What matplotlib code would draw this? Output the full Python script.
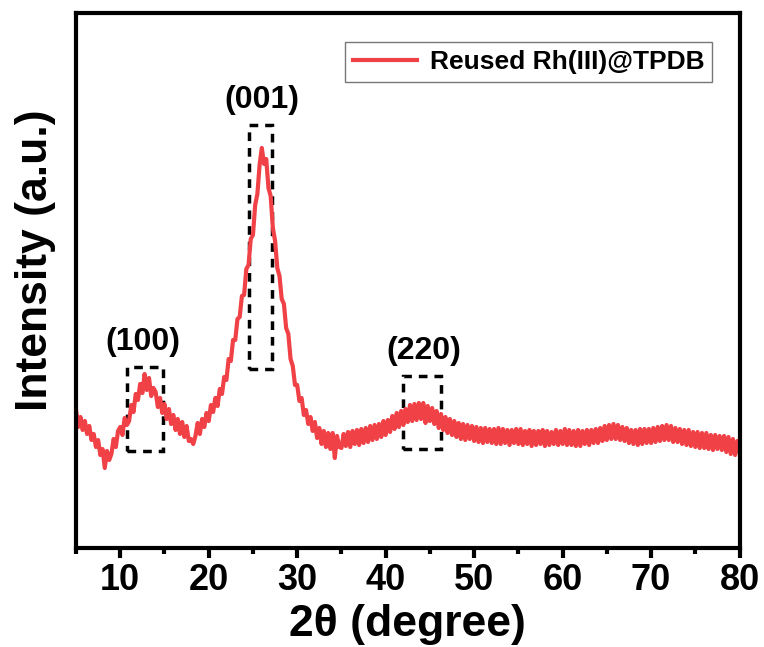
import numpy as np
import matplotlib
matplotlib.use('Agg')
import matplotlib.pyplot as plt
from matplotlib.patches import Rectangle

plt.rcParams['font.family'] = ['Liberation Sans', 'DejaVu Sans']
plt.rcParams['font.weight'] = 'bold'

# XRD pattern, 0.25 deg steps from 5 to 80 deg (a.u.)
intensity = [
    138, 121, 131, 118, 127, 114, 122, 108, 114, 101, 108, 93,
    99, 80, 97, 88, 94, 109, 101, 117, 121, 113, 130, 123,
    127, 143, 136, 154, 148, 164, 155, 174, 158, 170, 152, 160,
    156, 141, 150, 135, 144, 129, 139, 124, 133, 118, 129, 114,
    126, 111, 122, 107, 109, 104, 112, 125, 114, 129, 121, 135,
    127, 143, 136, 150, 142, 159, 154, 171, 168, 189, 187, 208,
    208, 229, 231, 252, 253, 279, 283, 309, 313, 343, 354, 383,
    400, 384, 389, 360, 352, 320, 307, 280, 272, 249, 244, 220,
    214, 189, 182, 163, 163, 147, 150, 133, 138, 124, 131, 117,
    126, 110, 120, 104, 117, 101, 115, 99, 115, 90, 112, 101,
    100, 114, 102, 116, 101, 117, 104, 118, 103, 119, 105, 120,
    106, 122, 108, 123, 109, 124, 111, 127, 113, 128, 116, 132,
    119, 135, 121, 137, 123, 139, 126, 143, 127, 144, 128, 145,
    129, 145, 125, 142, 127, 140, 124, 137, 120, 134, 118, 131,
    115, 129, 113, 127, 111, 125, 109, 124, 108, 123, 109, 122,
    107, 121, 106, 120, 105, 120, 106, 119, 105, 119, 104, 120,
    104, 119, 105, 118, 103, 118, 105, 119, 104, 119, 103, 117,
    104, 118, 102, 117, 103, 117, 104, 118, 102, 117, 103, 116,
    104, 118, 103, 117, 104, 119, 103, 118, 103, 117, 102, 118,
    102, 117, 104, 118, 103, 118, 105, 119, 105, 120, 107, 122,
    108, 123, 109, 124, 109, 123, 108, 121, 107, 120, 105, 118,
    104, 118, 103, 119, 104, 119, 105, 119, 105, 120, 106, 121,
    107, 122, 108, 123, 108, 122, 106, 120, 106, 119, 104, 118,
    103, 118, 102, 116, 101, 116, 100, 115, 100, 115, 99, 113,
    98, 113, 99, 112, 98, 112, 96, 111, 94, 109, 93, 107,
    96,
]
two_theta = 5 + 0.25 * np.arange(len(intensity))

peak_labels = ['(100)', '(001)', '(220)']
peak_label_pos = [(12.6, 206), (26.0, 448), (44.3, 197)]
peak_boxes = [(10.8, 97, 4.05, 84), (24.5, 179, 2.6, 244), (42.0, 99, 4.2, 73)]

fig = plt.figure(figsize=(7.64, 6.47), dpi=100)
ax = fig.add_axes([0.0995, 0.153, 0.8685, 0.827])

ax.plot(two_theta, intensity, color='#F04146', lw=3.0, label='Reused Rh(III)@TPDB')

for (x0, y0, w, h) in peak_boxes:
    ax.add_patch(Rectangle((x0, y0), w, h, fill=False, ls=(0, (2.5, 2)),
                           lw=2.5, ec='black'))
for lab, (px, py) in zip(peak_labels, peak_label_pos):
    ax.text(px, py, lab, ha='center', va='center', fontsize=23, fontweight='bold')

ax.set_xlim(5, 80)
ax.set_ylim(0, 535)
ax.set_xticks(np.arange(10, 81, 10))
ax.set_xticks(np.arange(5, 81, 5), minor=True)
ax.set_yticks([])
ax.tick_params(axis='x', which='major', direction='out', length=7, width=3,
               labelsize=26, pad=4)
ax.tick_params(axis='x', which='minor', direction='out', length=4, width=3)
for lbl in ax.get_xticklabels():
    lbl.set_family(['Liberation Sans Narrow', 'Liberation Sans'])
    lbl.set_fontweight('bold')
for s in ax.spines.values():
    s.set_linewidth(3)

ax.set_xlabel('2θ (degree)', fontsize=32, fontweight='bold')
ax.xaxis.set_label_coords(0.5, -0.105)
ax.set_ylabel('Intensity (a.u.)', fontsize=32, fontweight='bold')
ax.yaxis.set_label_coords(-0.03, 0.538)

leg = ax.legend(loc='upper right', bbox_to_anchor=(0.959, 0.946), fancybox=False,
                edgecolor='#777777', framealpha=1, prop={'size': 19, 'weight': 'bold'},
                handlelength=2.4, borderpad=0.3, handletextpad=0.5, borderaxespad=0)
leg.get_frame().set_linewidth(1.0)

fig.savefig('out.png', dpi=100)
